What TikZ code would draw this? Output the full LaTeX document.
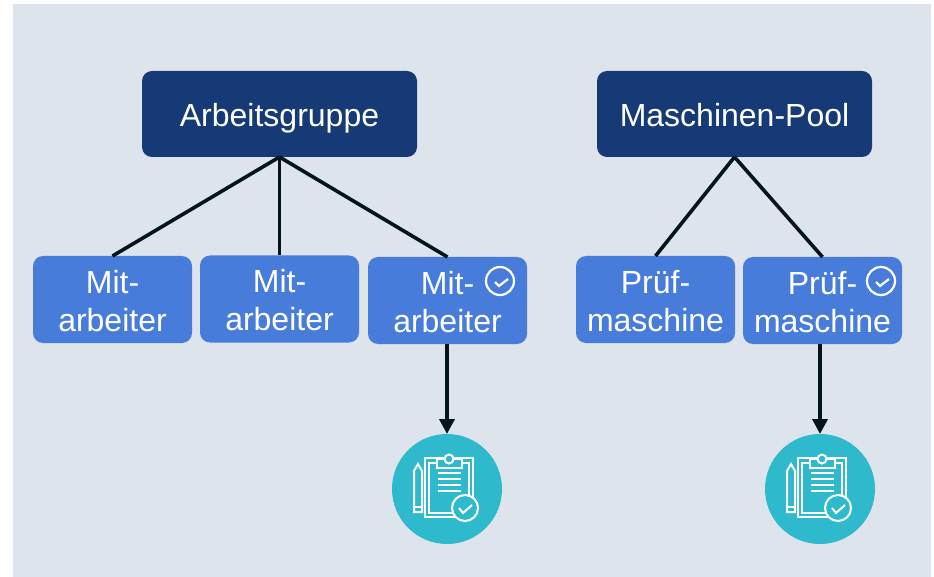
\documentclass[tikz,border=0pt]{standalone}
\usepackage{fontspec}
\setmainfont{Liberation Sans}
\usetikzlibrary{arrows.meta}
\definecolor{panelgrey}{HTML}{DEE4EC}
\definecolor{groupblue}{HTML}{163A75}
\definecolor{memberblue}{HTML}{477CDB}
\definecolor{resultteal}{HTML}{2FB9CD}
\definecolor{linkdark}{HTML}{04161C}
\tikzset{
  groupbox/.style={fill=groupblue, text=white, rounded corners=10pt, minimum width=275pt, minimum height=86pt, inner sep=0pt, outer sep=0pt, text height=25pt, text depth=0pt, font=\fontsize{32}{37}\selectfont},
  memberbox/.style={fill=memberblue, text=white, rounded corners=10pt, minimum width=159pt, minimum height=87pt, inner sep=0pt, outer sep=0pt, align=center, text height=63pt, text depth=0pt, font=\fontsize{32}{38}\selectfont},
  resultdot/.style={circle, fill=resultteal, minimum size=110pt, inner sep=0pt, outer sep=0pt},
  link/.style={draw=linkdark, line width=3.6pt},
  linkarrow/.style={link, -{Triangle[length=15pt,width=15pt]}},
  pics/checkmark/.style={code={
    \draw[white, line width=2.2pt] (0,0) circle (14);
    \draw[white, line width=2.2pt] (-5,1) -- (-1,5) -- (8,-2);
  }},
  pics/clipboard/.style={code={
    \begin{scope}[white, line width=2pt]
      \draw (-22,-31) rectangle (26,28);
      \draw (-18,-26) rectangle (22,24);
      \draw[fill=resultteal] (-10,-30) -- (-10,-21) -- (15,-21) -- (15,-30) -- cycle;
      \draw[fill=resultteal] (2,-30) circle (4.5);
      \foreach \y in {-16,-10,-4,2} {
        \draw (-9,\y) -- (14,\y);
      }
      \draw (-33,-18) -- (-29,-25) -- (-25,-18) -- (-25,23) -- (-33,23) -- cycle;
      \draw (-33,18) -- (-25,18);
      \draw[fill=resultteal] (18,19) circle (13);
      \draw (12,19) -- (16,24) -- (25,16);
    \end{scope}
  }}
}
\begin{document}
\begin{tikzpicture}[x=1pt, y=-1pt]
  \useasboundingbox (0,0) rectangle (934,577);
  \fill[panelgrey] (13,4) rectangle (931,577);

  \node[groupbox] (gruppe) at (279.5,114) {Arbeitsgruppe};
  \node[memberbox] (ma1) at (112.5,299.5) {Mit-\\arbeiter};
  \node[memberbox] (ma2) at (279.5,299) {Mit-\\arbeiter};
  \node[memberbox] (ma3) at (447.5,300.5) {Mit-\\arbeiter};
  \node[resultdot] (res1) at (447,489) {};
  \draw[link] (gruppe.south) -- (ma1.north);
  \draw[link] (gruppe.south) -- (ma2.north);
  \draw[link] (gruppe.south) -- (ma3.north);
  \draw[linkarrow] (ma3.south -| res1.north) -- (res1.north);
  \pic at (500,281) {checkmark};
  \pic at (res1.center) {clipboard};

  \node[groupbox] (pool) at (734.5,114) {Maschinen-Pool};
  \node[memberbox] (pm1) at (655.5,299.5) {Prüf-\\maschine};
  \node[memberbox] (pm2) at (822.5,300.5) {Prüf-\\maschine};
  \node[resultdot] (res2) at (820,489) {};
  \draw[link] (pool.south) -- (pm1.north);
  \draw[link] (pool.south) -- (pm2.north);
  \draw[linkarrow] (pm2.south -| res2.north) -- (res2.north);
  \pic at (881,281) {checkmark};
  \pic at (res2.center) {clipboard};
\end{tikzpicture}
\end{document}
